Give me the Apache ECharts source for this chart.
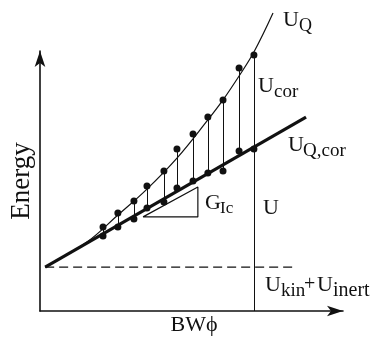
<!DOCTYPE html>
<html>
<head>
<meta charset="utf-8">
<script src="https://cdn.jsdelivr.net/npm/echarts@6/dist/echarts.min.js"></script>
<style>
  html, body { margin: 0; padding: 0; background: #fff; }
  #chart { width: 376px; height: 341px; }
</style>
</head>
<body>
<div id="chart"></div>
<script>
// measured points, BWphi on x (0-10), energy on y (0-10)
const dotX   = [2.08, 2.57, 3.10, 3.53, 4.09, 4.52, 5.05, 5.54, 6.04, 6.57, 7.06];
const upperY = [3.23, 3.77, 4.23, 4.81, 5.38, 6.23, 6.81, 7.46, 8.12, 9.35, 9.85];
const lowerY = [2.88, 3.23, 3.54, 3.96, 4.19, 4.73, 5.00, 5.31, 5.38, 6.15, 6.23];

const curveX = [0.17, 1.55, 2.57, 3.53, 4.52, 5.54, 6.04, 6.57, 7.06, 7.69];
const curveY = [1.69, 2.65, 3.69, 4.69, 5.88, 7.35, 8.12, 9.04, 9.96, 11.46];

const corLineX = [0.17, 8.78];
const corLineY = [1.69, 7.46];

const kinLevel = 1.69;
const kinEndX = 8.38;

const triX = [3.40, 5.21, 5.21, 3.40];
const triY = [3.62, 3.62, 4.77, 3.62];

const ink = '#111';
const serif = '"Liberation Serif", "DejaVu Serif", serif';

const chart = echarts.init(document.getElementById('chart'));

const zip = (xs, ys) => xs.map((x, i) => [x, ys[i]]);

// vertical connectors, the last one runs down to the x axis
const connectors = dotX.map((x, i) => ({
  coords: [[x, upperY[i]], [x, i === dotX.length - 1 ? 0 : lowerY[i]]]
}));

function txt(x, y, s, size, align) {
  return {
    type: 'text',
    style: {
      x: x, y: y, text: s,
      font: size + 'px ' + serif,
      fill: ink,
      align: align || 'left',
      verticalAlign: 'middle'
    }
  };
}

const axisCommon = {
  type: 'value',
  min: 0,
  max: 10,
  splitLine: { show: false },
  axisTick: { show: false },
  axisLabel: { show: false },
  axisLine: {
    show: true,
    symbol: ['none', 'arrow'],
    symbolSize: [8, 16],
    lineStyle: { color: ink, width: 1.6 }
  }
};

chart.setOption({
  backgroundColor: '#fff',
  animation: false,
  grid: { left: 40, right: 33, top: 51, bottom: 30 },
  xAxis: axisCommon,
  yAxis: axisCommon,
  series: [
    {
      type: 'line',
      data: [[0.17, kinLevel], [kinEndX, kinLevel]],
      symbol: 'none',
      lineStyle: { color: ink, width: 1.2, type: [9, 5] }
    },
    {
      type: 'lines',
      coordinateSystem: 'cartesian2d',
      data: connectors,
      lineStyle: { color: ink, width: 1, opacity: 1 }
    },
    {
      type: 'line',
      data: zip(curveX, curveY),
      smooth: 0.4,
      clip: false,
      symbol: 'none',
      lineStyle: { color: ink, width: 1.2 }
    },
    {
      type: 'line',
      data: zip(corLineX, corLineY),
      symbol: 'none',
      lineStyle: { color: ink, width: 3.2 }
    },
    {
      type: 'line',
      data: zip(triX, triY),
      symbol: 'none',
      lineStyle: { color: ink, width: 1.2 }
    },
    {
      type: 'scatter',
      data: zip(dotX, upperY),
      symbolSize: 7,
      itemStyle: { color: ink, opacity: 1 }
    },
    {
      type: 'scatter',
      data: zip(dotX, lowerY),
      symbolSize: 7,
      itemStyle: { color: ink, opacity: 1 }
    }
  ],
  graphic: [
    txt(283, 20, 'U', 22),
    txt(299, 26, 'Q', 18),
    txt(258, 86, 'U', 22),
    txt(274, 92, 'cor', 19),
    txt(288, 145, 'U', 22),
    txt(303, 151, 'Q,cor', 19),
    txt(205, 203, 'G', 22),
    txt(220, 209, 'Ic', 17),
    txt(263, 208, 'U', 22),
    txt(265, 285, 'U', 22),
    txt(281, 291, 'kin', 19),
    txt(304, 285, '+', 20),
    txt(317, 285, 'U', 22),
    txt(333, 291, 'inert', 20),
    txt(194, 325, 'BW\u03D5', 22, 'center'),
    {
      type: 'text',
      x: 22, y: 181,
      rotation: Math.PI / 2,
      style: { x: 0, y: 0, text: 'Energy', font: '27px ' + serif, fill: ink, align: 'center', verticalAlign: 'middle' }
    }
  ]
});
</script>
</body>
</html>
